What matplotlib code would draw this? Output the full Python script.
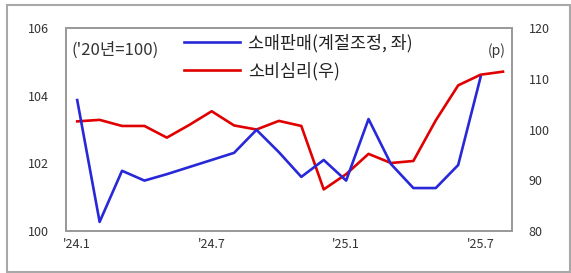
import matplotlib.pyplot as plt
from matplotlib.patches import Rectangle

plt.rcParams['font.family'] = ['Noto Sans CJK KR', 'DejaVu Sans']

# 월 인덱스: 0 = '24.1
months = list(range(20))
retail = [103.87, 100.27, 101.78, 101.49, 101.68, 101.89, 102.10, 102.31, 102.99, 102.33,
          101.60, 102.10, 101.49, 103.31, 101.98, 101.27, 101.27, 101.95, 104.55]
sentiment = [101.6, 101.9, 100.7, 100.7, 98.4, 100.9, 103.6, 100.8, 100.0, 101.7,
             100.7, 88.2, 91.2, 95.2, 93.4, 93.8, 101.8, 108.7, 110.8, 111.4]
xtick_pos = [0, 6, 12, 18]
xtick_labels = ["'24.1", "'24.7", "'25.1", "'25.7"]
left_ticks = [100, 102, 104, 106]
right_ticks = [80, 90, 100, 110, 120]

fig = plt.figure(figsize=(5.71, 2.73), dpi=100)
ax = fig.add_axes([0.1156, 0.1538, 0.781, 0.7436])
ax2 = ax.twinx()

blue = '#2828d8'
red = '#e00000'
grey = '#9a9a9a'
txt = '#333333'

l1, = ax.plot(months[:len(retail)], retail, color=blue, lw=1.9)
l2, = ax2.plot(months, sentiment, color=red, lw=1.9)
ax.set_zorder(ax2.get_zorder() + 1)
ax.patch.set_visible(False)

ax.set_xlim(-0.5, 19.4)
ax.set_ylim(100, 106)
ax2.set_ylim(80, 120)
ax.set_yticks(left_ticks)
ax.set_yticklabels([str(t) for t in left_ticks])
ax2.set_yticks(right_ticks)
ax.set_xticks(xtick_pos)
ax.set_xticklabels(xtick_labels)

for a in (ax, ax2):
    for s in a.spines.values():
        s.set_color(grey)
        s.set_linewidth(1.3)
ax.tick_params(axis='both', length=0, labelsize=9, colors=txt)
ax.tick_params(axis='y', pad=12)
ax.tick_params(axis='x', pad=5)
ax2.tick_params(axis='y', length=0, labelsize=9, colors=txt, pad=12)

ax.text(0.012, 0.89, "('20년=100)", transform=ax.transAxes, fontsize=12, color=txt,
        va='center')
ax.text(0.985, 0.89, "(p)", transform=ax.transAxes, fontsize=10, color=txt,
        ha='right', va='center')

leg = ax.legend([l1, l2], ['소매판매(계절조정, 좌)', '소비심리(우)'],
                loc='upper left', bbox_to_anchor=(0.25, 1.005), frameon=False,
                fontsize=12.5, handlelength=3.2, handletextpad=0.45,
                labelspacing=0.55, borderaxespad=0)
for t in leg.get_texts():
    t.set_color('#222222')

fig.patches.append(Rectangle((7 / 571, 1 / 273), 563 / 571, 267 / 273,
                             transform=fig.transFigure, fill=False,
                             edgecolor='#a8a8a8', lw=1.5))

fig.savefig('out.png', dpi=100)
